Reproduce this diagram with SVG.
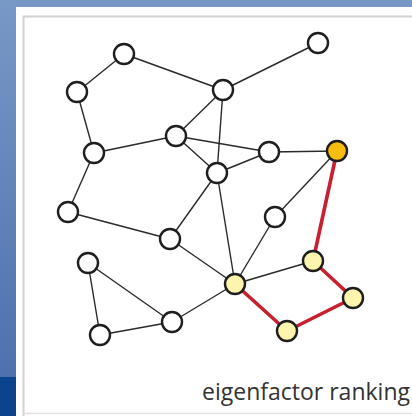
<svg xmlns="http://www.w3.org/2000/svg" width="412" height="416" viewBox="0 0 412 416">
<defs>
<linearGradient id="bg" x1="0" y1="0" x2="0" y2="1">
<stop offset="0" stop-color="#7898c6"/>
<stop offset="1" stop-color="#4a6dab"/>
</linearGradient>
<style>
.e{stroke:#2a2a2a;stroke-width:1.4;fill:none}
.r{stroke:#c8202e;stroke-width:3.6;fill:none;stroke-linecap:round}
.n circle{stroke:#1e1e1e;stroke-width:2.4}
.w circle{fill:#fff}
.y circle{fill:#fdf4ae}
.o circle{fill:#f9bd10}
.t{font-family:"Open Sans","Liberation Sans",sans-serif;font-size:23px;fill:#333}
</style>
</defs>
<rect x="0" y="0" width="412" height="416" fill="url(#bg)"/>
<rect x="0" y="377" width="16" height="39" fill="#0b438c"/>
<rect x="16" y="7" width="396" height="409" fill="#fff"/>
<path d="M23.5 416 V16.5 H412" fill="none" stroke="#d2d2d2" stroke-width="2"/>
<path d="M23 413.5 H412" fill="none" stroke="#e0e0e0" stroke-width="1.5"/>
<g id="connectors">
<line class="e" x1="124" y1="54" x2="77" y2="92"/>
<line class="e" x1="124" y1="54" x2="223" y2="90"/>
<line class="e" x1="318" y1="43" x2="223" y2="90"/>
<line class="e" x1="77" y1="92" x2="94" y2="153"/>
<line class="e" x1="223" y1="90" x2="176" y2="136"/>
<line class="e" x1="223" y1="90" x2="217" y2="173"/>
<line class="e" x1="176" y1="136" x2="94" y2="153"/>
<line class="e" x1="176" y1="136" x2="269" y2="152"/>
<line class="e" x1="176" y1="136" x2="217" y2="173"/>
<line class="e" x1="217" y1="173" x2="269" y2="152"/>
<line class="e" x1="269" y1="152" x2="337" y2="151"/>
<line class="e" x1="337" y1="151" x2="275" y2="217"/>
<line class="e" x1="94" y1="153" x2="68" y2="212"/>
<line class="e" x1="68" y1="212" x2="170" y2="239"/>
<line class="e" x1="170" y1="239" x2="217" y2="173"/>
<line class="e" x1="217" y1="173" x2="235" y2="284"/>
<line class="e" x1="275" y1="217" x2="235" y2="284"/>
<line class="e" x1="170" y1="239" x2="235" y2="284"/>
<line class="e" x1="88" y1="263" x2="172" y2="322"/>
<line class="e" x1="88" y1="263" x2="100" y2="335"/>
<line class="e" x1="100" y1="335" x2="172" y2="322"/>
<line class="e" x1="172" y1="322" x2="235" y2="284"/>
<line class="e" x1="235" y1="284" x2="313" y2="261"/>
<line class="r" x1="337" y1="151" x2="313" y2="261"/>
<line class="r" x1="235" y1="284" x2="287" y2="331"/>
<line class="r" x1="287" y1="331" x2="353" y2="298"/>
<line class="r" x1="353" y1="298" x2="313" y2="261"/>
</g>
<g id="n1" class="n w"><circle cx="124" cy="54" r="10"/></g>
<g id="n2" class="n w"><circle cx="318" cy="43" r="10"/></g>
<g id="n3" class="n w"><circle cx="77" cy="92" r="10"/></g>
<g id="n4" class="n w"><circle cx="223" cy="90" r="10"/></g>
<g id="n5" class="n w"><circle cx="176" cy="136" r="10"/></g>
<g id="n6" class="n w"><circle cx="94" cy="153" r="10"/></g>
<g id="n7" class="n w"><circle cx="269" cy="152" r="10"/></g>
<g id="n8" class="n o"><circle cx="337" cy="151" r="10"/></g>
<g id="n9" class="n w"><circle cx="217" cy="173" r="10"/></g>
<g id="n10" class="n w"><circle cx="68" cy="212" r="10"/></g>
<g id="n11" class="n w"><circle cx="275" cy="217" r="10"/></g>
<g id="n12" class="n w"><circle cx="170" cy="239" r="10"/></g>
<g id="n13" class="n w"><circle cx="88" cy="263" r="10"/></g>
<g id="n14" class="n y"><circle cx="313" cy="261" r="10"/></g>
<g id="n15" class="n y"><circle cx="235" cy="284" r="10"/></g>
<g id="n16" class="n y"><circle cx="353" cy="298" r="10"/></g>
<g id="n17" class="n w"><circle cx="172" cy="322" r="10"/></g>
<g id="n18" class="n w"><circle cx="100" cy="335" r="10"/></g>
<g id="n19" class="n y"><circle cx="287" cy="331" r="10"/></g>
<text class="t" x="410" y="400" text-anchor="end">eigenfactor ranking</text>
</svg>
